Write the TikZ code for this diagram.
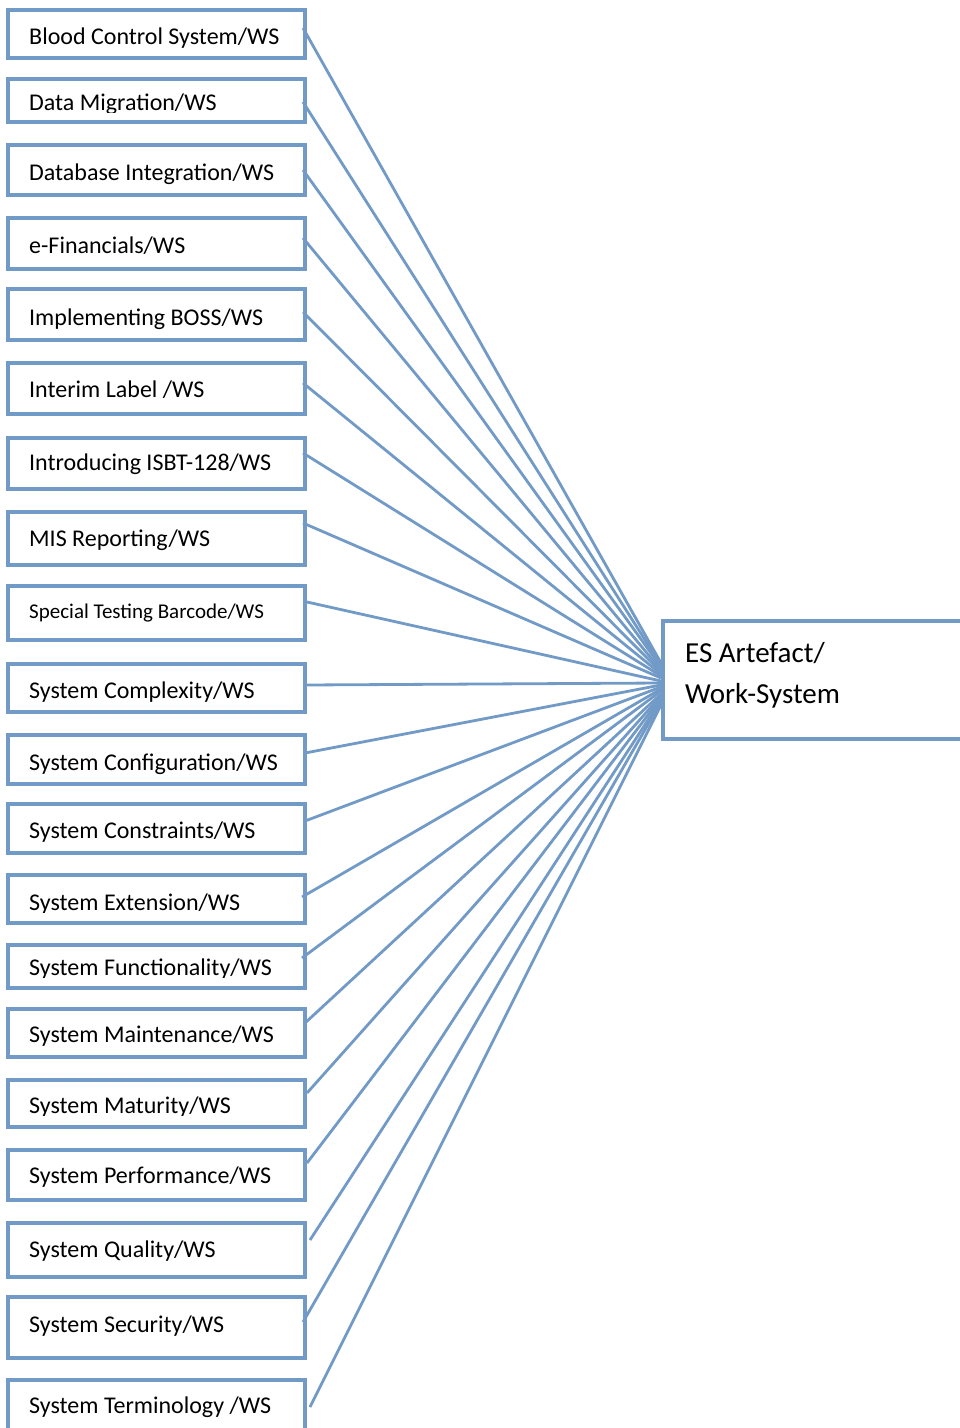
\documentclass[tikz,border=0pt]{standalone}
\usepackage{fontspec}
\setmainfont{Carlito}
\definecolor{wsblue}{RGB}{114,154,198}
\tikzset{
  wsframe/.style={draw=wsblue, line width=3.5pt, rectangle, inner sep=0pt,
    outer sep=0pt, anchor=north west, minimum width=297pt},
  wslabel/.style={anchor=base west, inner sep=0pt, font=\fontsize{24}{29}\selectfont},
  wslink/.style={draw=wsblue, line width=2.8pt},
}
% #1 name, #2 top, #3 bottom, #4 baseline, #5 lower edge of the visible text, #6 text
\newcommand{\wsitem}[6]{%
  \node[wsframe, minimum height=#3-#2] (#1) at (8,#2) {};
  \begin{scope}
    \clip (0,#2) rectangle (330,#5);
    \node[wslabel] (#1t) at (29,#4) {#6};
  \end{scope}
}
\begin{document}
\begin{tikzpicture}[x=1pt, y=-1pt]
  \clip (0,0) rectangle (960,1428);
  \fill[white] (0,0) rectangle (960,1428);

  % work-system factors
  \wsitem{b1}{10}{58}{44}{58}{Blood Control System/WS}
  \wsitem{b2}{79}{122}{110}{112}{Data Migration/WS}
  \wsitem{b3}{145}{195}{180}{195}{Database Integration/WS}
  \wsitem{b4}{218}{269}{253}{269}{e-Financials/WS}
  \wsitem{b5}{289}{340}{325}{340}{Implementing BOSS/WS}
  \wsitem{b6}{363}{414}{397}{414}{Interim Label /WS}
  \wsitem{b7}{438}{489}{470}{489}{Introducing ISBT-128/WS}
  \wsitem{b8}{512}{565}{546}{565}{MIS Reporting/WS}
  \wsitem{b9}{586}{640}{618}{640}{\fontsize{21}{25}\selectfont Special Testing Barcode/WS}
  \wsitem{b10}{664}{712}{698}{702}{System Complexity/WS}
  \wsitem{b11}{735}{784}{770}{784}{System Configuration/WS}
  \wsitem{b12}{804}{853}{838}{853}{System Constraints/WS}
  \wsitem{b13}{875}{923}{910}{912}{System Extension/WS}
  \wsitem{b14}{945}{988}{975}{977}{System Functionality/WS}
  \wsitem{b15}{1009}{1057}{1042}{1057}{System Maintenance/WS}
  \wsitem{b16}{1080}{1127}{1113}{1115}{System Maturity/WS}
  \wsitem{b17}{1150}{1200}{1183}{1200}{System Performance/WS}
  \wsitem{b18}{1223}{1277}{1257}{1277}{System Quality/WS}
  \wsitem{b19}{1297}{1358}{1332}{1358}{System Security/WS}
  \wsitem{b20}{1380}{1445}{1413}{1445}{System Terminology /WS}

  % central artefact
  \node[wsframe, minimum width=330pt, minimum height=118pt] (es) at (663,621) {};
  \node[anchor=base west, inner sep=0pt, font=\fontsize{29}{35}\selectfont] (est1) at (685,662) {ES Artefact/};
  \node[anchor=base west, inner sep=0pt, font=\fontsize{29}{35}\selectfont] (est2) at (685,703) {Work-System};

  % links into the artefact
  \draw[wslink] ([xshift=-2pt, yshift=-18pt]b1.north east) -- ([xshift=-2pt, yshift=-42pt]es.north west);
  \draw[wslink] ([xshift=-2pt, yshift=-23pt]b2.north east) -- ([xshift=-2pt, yshift=-44pt]es.north west);
  \draw[wslink] ([xshift=-2pt, yshift=-25pt]b3.north east) -- ([xshift=-2pt, yshift=-46pt]es.north west);
  \draw[wslink] ([xshift=-2pt, yshift=-20pt]b4.north east) -- ([xshift=-2pt, yshift=-49pt]es.north west);
  \draw[wslink] ([xshift=-2pt, yshift=-23pt]b5.north east) -- ([xshift=-2pt, yshift=-51pt]es.north west);
  \draw[wslink] ([xshift=-2pt, yshift=-20pt]b6.north east) -- ([xshift=-2pt, yshift=-53pt]es.north west);
  \draw[wslink] ([xshift=-2pt, yshift=-15pt]b7.north east) -- ([xshift=-2pt, yshift=-55pt]es.north west);
  \draw[wslink] ([xshift=-2pt, yshift=-11pt]b8.north east) -- ([xshift=-2pt, yshift=-57pt]es.north west);
  \draw[wslink] ([xshift=2pt, yshift=-16pt]b9.north east) -- ([xshift=-2pt, yshift=-60pt]es.north west);
  \draw[wslink] ([xshift=0pt, yshift=-21pt]b10.north east) -- ([xshift=-2pt, yshift=-62pt]es.north west);
  \draw[wslink] ([xshift=0pt, yshift=-18pt]b11.north east) -- ([xshift=-2pt, yshift=-64pt]es.north west);
  \draw[wslink] ([xshift=0pt, yshift=-17pt]b12.north east) -- ([xshift=-2pt, yshift=-66pt]es.north west);
  \draw[wslink] ([xshift=-3pt, yshift=-22pt]b13.north east) -- ([xshift=-2pt, yshift=-68pt]es.north west);
  \draw[wslink] ([xshift=-3pt, yshift=-13pt]b14.north east) -- ([xshift=-2pt, yshift=-70pt]es.north west);
  \draw[wslink] ([xshift=0pt, yshift=-14pt]b15.north east) -- ([xshift=-2pt, yshift=-73pt]es.north west);
  \draw[wslink] ([xshift=2pt, yshift=-13pt]b16.north east) -- ([xshift=-2pt, yshift=-75pt]es.north west);
  \draw[wslink] ([xshift=2pt, yshift=-13pt]b17.north east) -- ([xshift=-2pt, yshift=-77pt]es.north west);
  \draw[wslink] ([xshift=5pt, yshift=-17pt]b18.north east) -- ([xshift=-2pt, yshift=-79pt]es.north west);
  \draw[wslink] ([xshift=-2pt, yshift=-25pt]b19.north east) -- ([xshift=-2pt, yshift=-81pt]es.north west);
  \draw[wslink] ([xshift=5pt, yshift=-27pt]b20.north east) -- ([xshift=-2pt, yshift=-84pt]es.north west);
\end{tikzpicture}
\end{document}
